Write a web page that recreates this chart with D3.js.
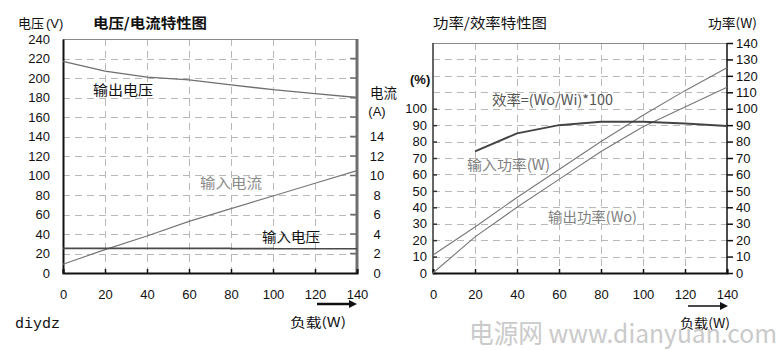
<!DOCTYPE html>
<html>
<head>
<meta charset="utf-8">
<script src="https://cdn.jsdelivr.net/npm/d3@7"></script>
<style>
  html, body { margin: 0; padding: 0; background: #fff; }
  svg { display: block; }
  .num { font-family: "Liberation Sans", Arial, sans-serif; font-size: 13px; fill: #111; }
  .cjk { font-family: "Noto Sans CJK SC", sans-serif; }
</style>
</head>
<body>
<svg id="chart" width="782" height="350"></svg>
<script>
// Load steps (W) shared by both panels
const loads = [0, 20, 40, 60, 80, 100, 120, 140];

// Voltage / current panel
const outputVoltage = [217, 207, 201, 198, 193, 188, 184, 180];   // V
const inputCurrent  = [0.9, 2.4, 3.8, 5.3, 6.6, 7.9, 9.2, 10.5];  // A
const inputVoltage  = [25.3, 25.3, 25.3, 25.3, 25.0, 24.8, 24.8, 24.8];
const voltTicks   = [0, 20, 40, 60, 80, 100, 120, 140, 160, 180, 200, 220, 240];
const currentTicks = [0, 2, 4, 6, 8, 10, 12, 14];

// Power / efficiency panel
const effLoads    = [20, 40, 60, 80, 100, 120, 140];
const efficiency  = [74, 85, 90, 92, 92, 91, 89.5];                // %
const inputPower  = [11, 28, 46, 63, 80, 96, 111, 125];            // W
const outputPower = [0, 22, 40, 57, 74, 89, 101, 113];             // W
const powerTicks  = [0, 10, 20, 30, 40, 50, 60, 70, 80, 90, 100, 110, 120, 130, 140];
const effTicks    = [0, 10, 20, 30, 40, 50, 60, 70, 80, 90, 100];
const loadTicks   = [0, 20, 40, 60, 80, 100, 120, 140];

const svg = d3.select("#chart");
const GRID = "#b8b8b8";

function addText(x, y, str, opts = {}) {
  const t = svg.append("text")
    .attr("x", x).attr("y", y)
    .attr("class", opts.cls || "cjk")
    .attr("font-size", opts.size || 14)
    .attr("fill", opts.fill || "#111")
    .attr("text-anchor", opts.anchor || "start")
    .attr("font-weight", opts.weight || "normal")
    .text(str);
  if (opts.len) t.attr("textLength", opts.len).attr("lengthAdjust", "spacingAndGlyphs");
  return t;
}

function arrow(x1, x2, y, w) {
  svg.append("line").attr("x1", x1).attr("x2", x2 - 6).attr("y1", y).attr("y2", y)
    .attr("stroke", "#111").attr("stroke-width", w);
  svg.append("path")
    .attr("d", `M${x2},${y} L${x2 - 8},${y - 4} L${x2 - 8},${y + 4} Z`)
    .attr("fill", "#111");
}

// dashed grid: each dash is a small filled rect (7 px on, 5 px off)
function drawGrid(x, y, hVals, vVals) {
  const [x0, x1] = x.range();
  const [y0, y1] = y.range();
  const g = svg.append("g").attr("fill", GRID).attr("shape-rendering", "crispEdges");
  const dashes = [];
  hVals.forEach(v => {
    const yy = Math.round(y(v));
    for (let s = x0; s < x1; s += 12) dashes.push({ x: s, y: yy, w: Math.min(7, x1 - s), h: 1 });
  });
  vVals.forEach(v => {
    const xx = Math.round(x(v));
    for (let s = y1; s < y0; s += 12) dashes.push({ x: xx, y: s, w: 1, h: Math.min(7, y0 - s) });
  });
  g.selectAll("rect").data(dashes).join("rect")
    .attr("x", d => d.x).attr("y", d => d.y).attr("width", d => d.w).attr("height", d => d.h);
}

/* ---------------- Left panel: voltage / current ---------------- */
{
  const x = d3.scaleLinear().domain([0, 140]).range([63, 357]);
  const yV = d3.scaleLinear().domain([0, 240]).range([273, 39]);
  const yA = d3.scaleLinear().domain([0, 24]).range([273, 39]);   // 1 A drawn like 10 V

  drawGrid(x, yV, voltTicks.filter(v => v > 0 && v < 240), loadTicks.filter(v => v > 0 && v < 140));
  const g = svg.append("g");

  // frame
  g.append("line").attr("x1", x(0)).attr("x2", x(140)).attr("y1", yV(240) + 0.5).attr("y2", yV(240) + 0.5)
    .attr("stroke", "#8a8a8a");
  g.append("line").attr("x1", x(140)).attr("x2", x(140)).attr("y1", yV(240)).attr("y2", yV(0) + 1)
    .attr("stroke", "#6e6e6e").attr("stroke-width", 3);

  // right axis ticks (inward)
  g.append("g").selectAll("line").data(voltTicks.filter(v => v > 0 && v < 240)).join("line")
    .attr("x1", x(140) - 7).attr("x2", x(140)).attr("y1", d => yV(d)).attr("y2", d => yV(d))
    .attr("stroke", "#6e6e6e").attr("stroke-width", 1.5);

  // left axis labels
  const axL = g.append("g").attr("transform", `translate(${x(0)},0)`)
    .call(d3.axisLeft(yV).tickValues(voltTicks).tickSize(0).tickPadding(13));
  axL.select(".domain").attr("stroke", "#111").attr("stroke-width", 2);
  axL.selectAll("text").attr("class", "num").attr("font-size", null).attr("font-family", null);

  // right axis labels (current)
  const axR = g.append("g").attr("transform", `translate(${x(140)},0)`)
    .call(d3.axisRight(yA).tickValues(currentTicks).tickSize(0).tickPadding(20));
  axR.select(".domain").remove();
  axR.selectAll("text").attr("class", "num").attr("font-size", null).attr("font-family", null)
    .attr("text-anchor", "middle");

  // bottom axis
  const axB = g.append("g").attr("transform", `translate(0,${yV(0)})`)
    .call(d3.axisBottom(x).tickValues(loadTicks).tickSize(-4).tickPadding(17));
  axB.select(".domain").attr("stroke", "#111").attr("stroke-width", 2);
  axB.selectAll(".tick line").attr("stroke", "#111").attr("stroke-width", 1.5);
  axB.selectAll("text").attr("class", "num").attr("font-size", null).attr("font-family", null);

  // series
  const lineV = d3.line().x((d, i) => x(loads[i])).y(d => yV(d));
  const lineA = d3.line().x((d, i) => x(loads[i])).y(d => yA(d));
  g.append("path").datum(outputVoltage).attr("d", lineV)
    .attr("fill", "none").attr("stroke", "#6f6f6f").attr("stroke-width", 1.3);
  g.append("path").datum(inputCurrent).attr("d", lineA)
    .attr("fill", "none").attr("stroke", "#777").attr("stroke-width", 1.2);
  g.append("path").datum(inputVoltage).attr("d", d3.line().curve(d3.curveStepAfter)
      .x((d, i) => x(loads[i])).y(d => yV(d)))
    .attr("fill", "none").attr("stroke", "#4a4a4a").attr("stroke-width", 1.6);

  // texts
  addText(18, 28, "电压", { size: 13 });
  addText(46, 28, "(V)", { size: 12, cls: "num" });
  addText(93, 28, "电压/电流特性图", { size: 14, weight: "bold", len: 114 });
  addText(93, 95, "输出电压", { size: 14, len: 60 });
  addText(200, 188, "输入电流", { size: 14, fill: "#8a8a8a", len: 62 });
  addText(262, 242, "输入电压", { size: 14, len: 58 });
  addText(370, 98, "电流", { size: 14, len: 27 });
  addText(377, 116, "(A)", { size: 11, cls: "num", anchor: "middle" });
  arrow(317, 357, 304, 2.5);
  addText(290, 327, "负载(W)", { size: 13, len: 56 });
  addText(15, 328, "diydz", { size: 15 })
    .style("font-family", "'Liberation Mono', 'DejaVu Sans Mono', monospace");
}

/* ---------------- Right panel: power / efficiency ---------------- */
{
  const x = d3.scaleLinear().domain([0, 140]).range([433, 727]);
  const yW = d3.scaleLinear().domain([0, 140]).range([273, 43]);
  const yE = d3.scaleLinear().domain([0, 140]).range([273, 43]);   // % drawn like W

  drawGrid(x, yW, powerTicks.filter(v => v > 0 && v < 140), loadTicks.filter(v => v > 0 && v < 140));
  const g = svg.append("g");

  g.append("line").attr("x1", x(0)).attr("x2", x(140)).attr("y1", yW(140) + 0.5).attr("y2", yW(140) + 0.5)
    .attr("stroke", "#8a8a8a");

  // left axis (efficiency)
  const axL = g.append("g").attr("transform", `translate(${x(0)},0)`)
    .call(d3.axisLeft(yE).tickValues(effTicks).tickSize(-4).tickPadding(6));
  axL.select(".domain").remove();
  g.append("line").attr("x1", x(0)).attr("x2", x(0)).attr("y1", yW(140)).attr("y2", yW(0))
    .attr("stroke", "#333").attr("stroke-width", 1.5);
  axL.selectAll(".tick line").attr("stroke", "#333").attr("stroke-width", 1.5);
  axL.selectAll("text").attr("class", "num").attr("font-size", null).attr("font-family", null);

  // right axis (power)
  const axR = g.append("g").attr("transform", `translate(${x(140)},0)`)
    .call(d3.axisRight(yW).tickValues(powerTicks).tickSize(6).tickPadding(3));
  axR.select(".domain").remove();
  g.append("line").attr("x1", x(140)).attr("x2", x(140)).attr("y1", yW(140)).attr("y2", yW(0))
    .attr("stroke", "#111").attr("stroke-width", 1.5);
  axR.selectAll(".tick line").attr("stroke", "#111").attr("stroke-width", 1.5);
  axR.selectAll("text").attr("class", "num").attr("font-size", null).attr("font-family", null);

  // bottom axis
  const axB = g.append("g").attr("transform", `translate(0,${yW(0)})`)
    .call(d3.axisBottom(x).tickValues(loadTicks).tickSize(-4).tickPadding(17));
  axB.select(".domain").attr("stroke", "#111").attr("stroke-width", 2);
  axB.selectAll(".tick line").attr("stroke", "#111").attr("stroke-width", 1.5);
  axB.selectAll("text").attr("class", "num").attr("font-size", null).attr("font-family", null);

  // series
  const lineW = d3.line().x((d, i) => x(loads[i])).y(d => yW(d));
  g.append("path").datum(inputPower).attr("d", lineW)
    .attr("fill", "none").attr("stroke", "#777").attr("stroke-width", 1.1);
  g.append("path").datum(outputPower).attr("d", lineW)
    .attr("fill", "none").attr("stroke", "#777").attr("stroke-width", 1.1);
  g.append("path").datum(efficiency)
    .attr("d", d3.line().x((d, i) => x(effLoads[i])).y(d => yE(d)))
    .attr("fill", "none").attr("stroke", "#444").attr("stroke-width", 2);

  // texts
  addText(433, 28, "功率/效率特性图", { size: 14, len: 114 });
  addText(708, 28, "功率(W)", { size: 13, len: 49 });
  addText(410, 84, "(%)", { size: 11, cls: "num", weight: "bold" });
  addText(492, 105, "效率=(Wo/Wi)*100", { size: 14, fill: "#555", len: 121 });
  addText(467, 170, "输入功率(W)", { size: 14, fill: "#808080", len: 83 });
  addText(548, 222, "输出功率(Wo)", { size: 14, fill: "#808080", len: 89 });
  arrow(688, 728, 306, 1.5);
  addText(680, 328, "负载(W)", { size: 13, len: 50 });
}

// site mark along the bottom edge
addText(469, 343, "电源网 www.dianyuan.com", { size: 26, fill: "#cacaca", len: 308 })
  .style("font-family", "'Noto Sans CJK SC', 'Liberation Sans', sans-serif");
</script>
</body>
</html>
